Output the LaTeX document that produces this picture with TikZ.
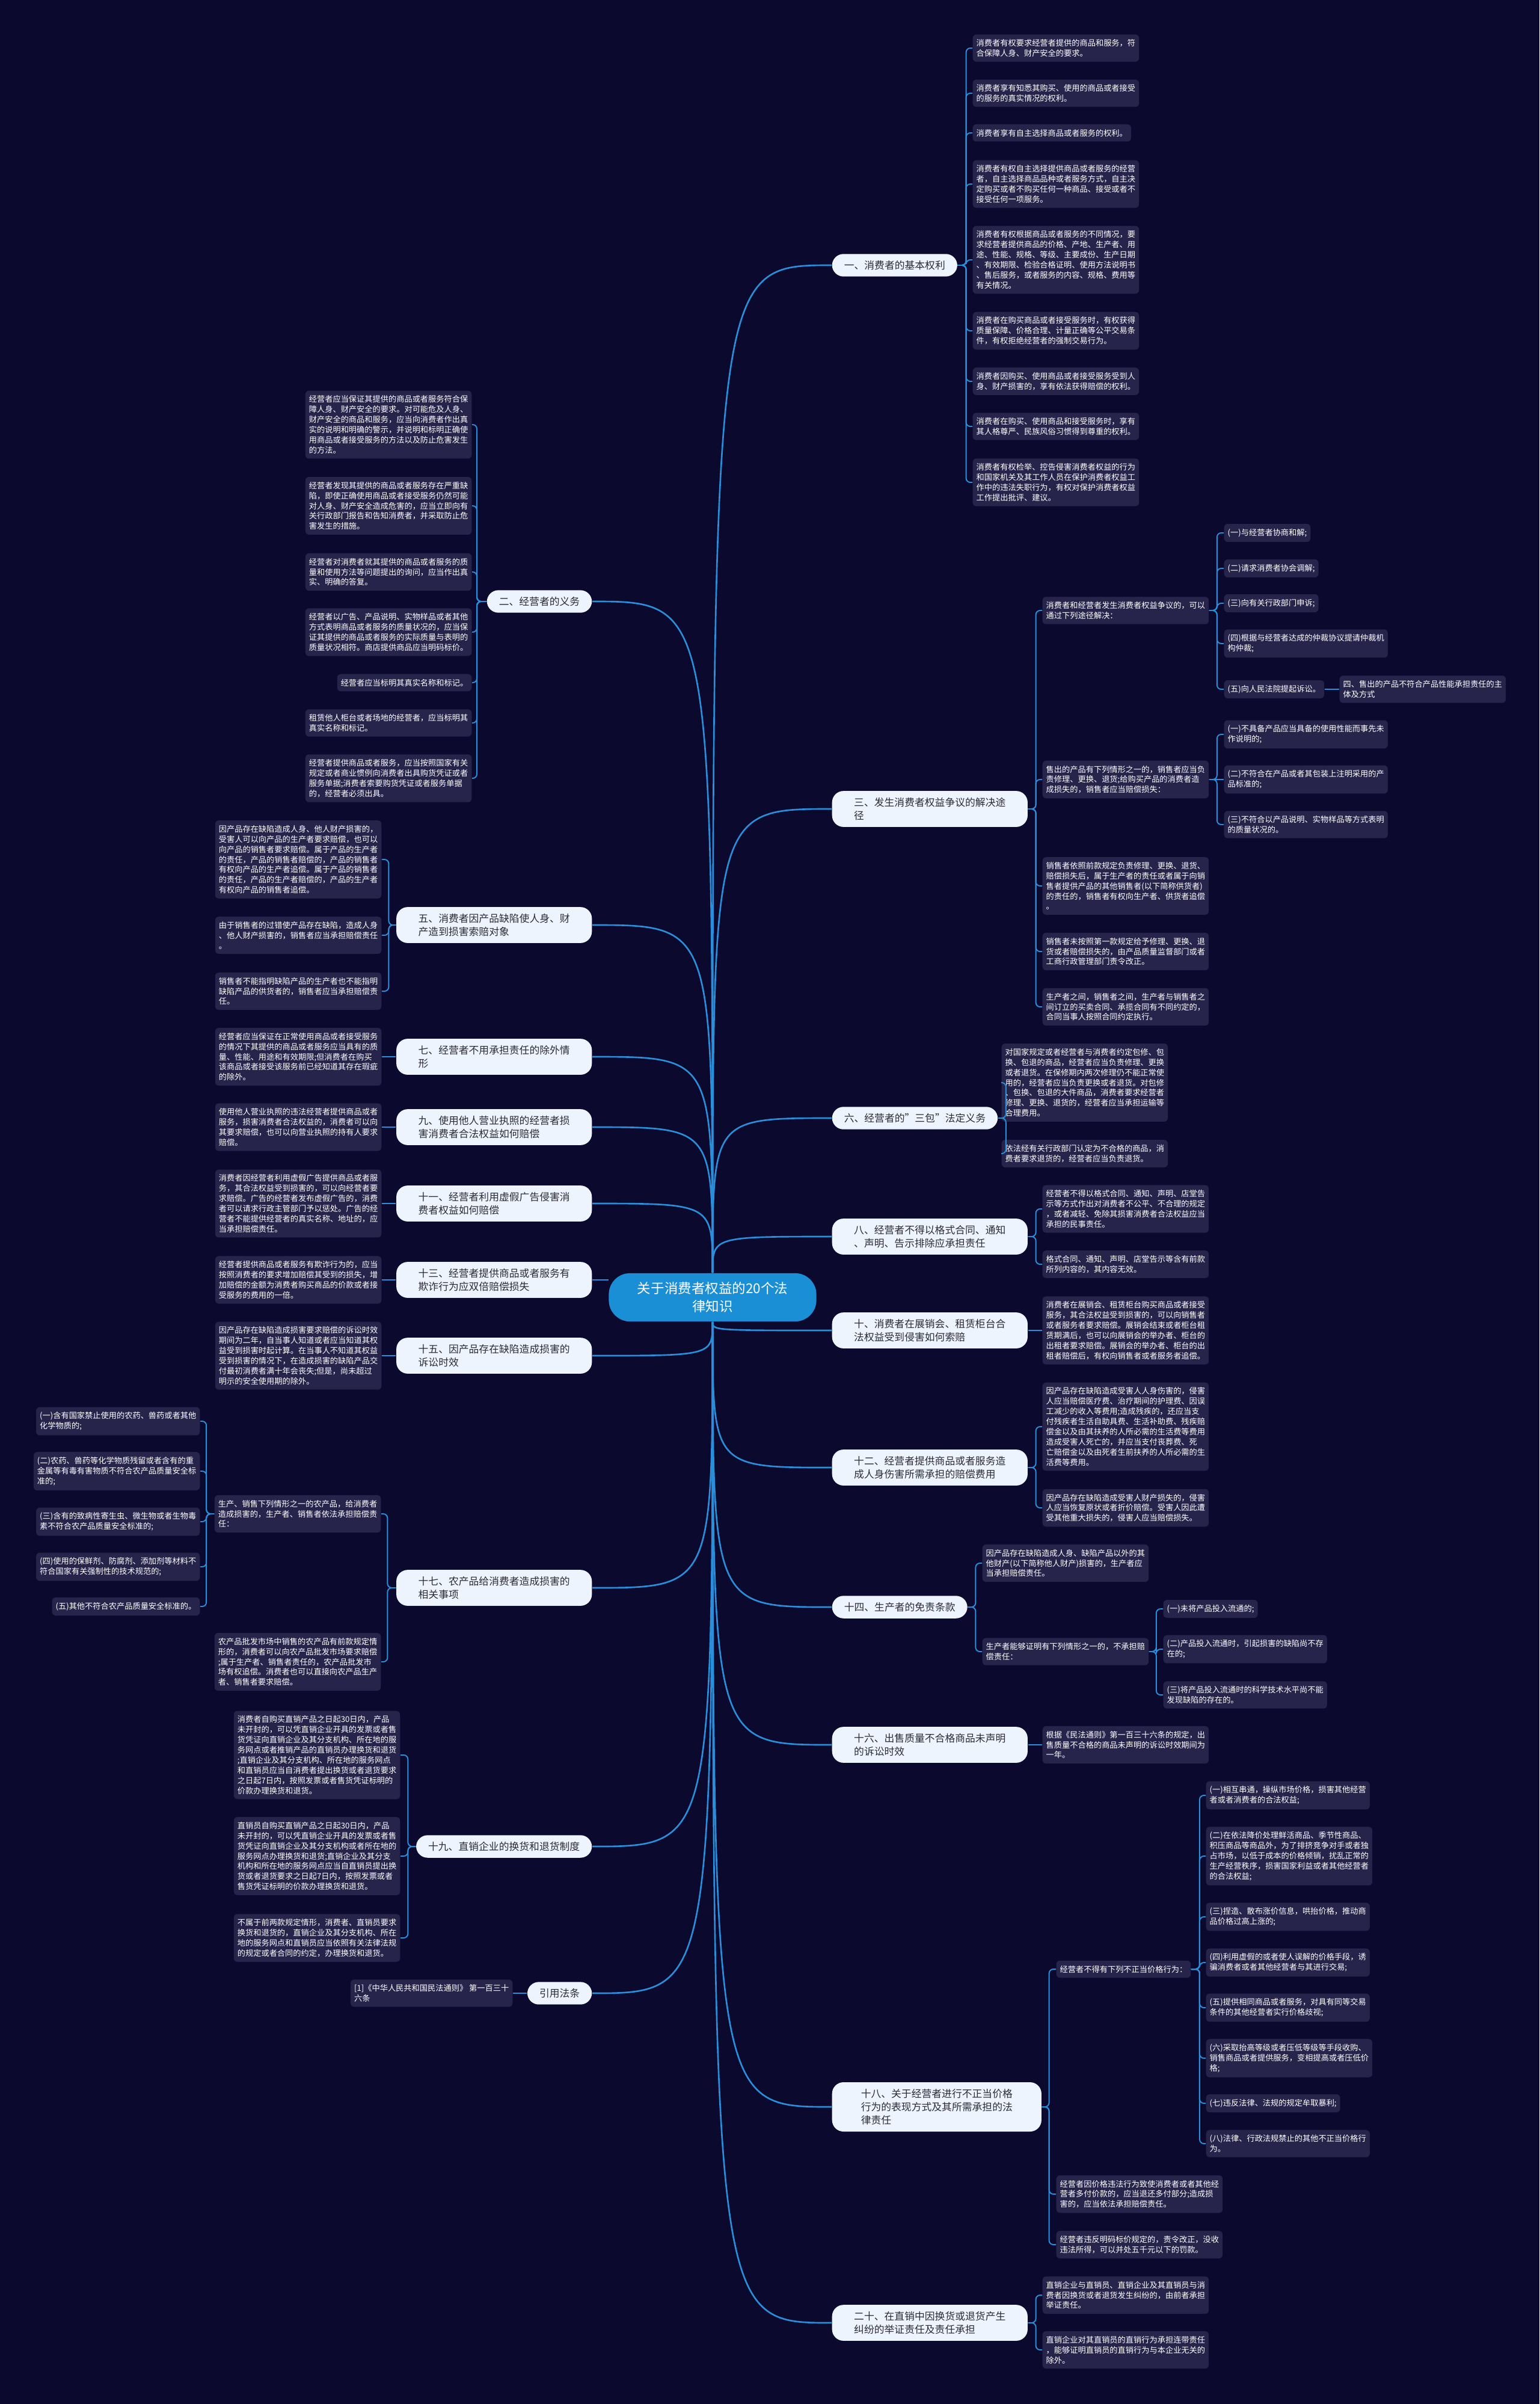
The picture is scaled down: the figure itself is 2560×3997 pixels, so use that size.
\documentclass[tikz,border=0pt]{standalone}
\usepackage{fontspec}
\setmainfont{Noto Sans CJK SC}
\usepackage{tikz}
\definecolor{lawMapBg}{HTML}{0B0A2E}
\definecolor{lawMapLeaf}{HTML}{27244C}
\definecolor{lawMapTopic}{HTML}{EEF4FE}
\definecolor{lawMapTopicText}{HTML}{2B2B33}
\definecolor{lawMapHub}{HTML}{1A8FD6}
\definecolor{lawMapLink}{HTML}{2A8FDB}

\begin{document}
\begin{tikzpicture}[x=0.01cm, y=-0.01cm,
    hub/.style={fill=lawMapHub, text=white, rounded corners=10pt, align=center,
      font=\fontsize{6.4}{8.5}\selectfont, minimum width=3.45cm, inner ysep=4.2pt},
    topic/.style={fill=lawMapTopic, text=lawMapTopicText, rounded corners=5.4pt, align=left,
      font=\fontsize{4.78}{6.35}\selectfont, inner xsep=5.7pt, inner ysep=3.1pt},
    topicr/.style={topic, anchor=west},
    topicl/.style={topic, anchor=east},
    wide/.style={minimum width=3.25cm},
    leaf/.style={fill=lawMapLeaf, text=white, rounded corners=1.7pt, align=left,
      font=\fontsize{3.76}{4.8}\selectfont, inner xsep=1.7pt, inner ysep=2.3pt},
    leafr/.style={leaf, anchor=west},
    leafl/.style={leaf, anchor=east},
    trunk/.style={draw=lawMapLink, line width=0.75pt},
    twig/.style={draw=lawMapLink, line width=0.55pt, rounded corners=2pt}]
\fill[lawMapBg] (0,0) rectangle (2560,3997);

\node[hub] (hub) at (1185,2157) {关于消费者权益的20个法\\律知识};

\node[topicr] (n1) at (1383,441) {一、消费者的基本权利};
\node[topicr, wide] (n3) at (1383,1345) {三、发生消费者权益争议的解决途\\径};
\node[topicr] (n6) at (1383,1859) {六、经营者的"三包"法定义务};
\node[topicr, wide] (n8) at (1383,2056) {八、经营者不得以格式合同、通知\\、声明、告示排除应承担责任};
\node[topicr, wide] (n10) at (1383,2212) {十、消费者在展销会、租赁柜台合\\法权益受到侵害如何索赔};
\node[topicr, wide] (n12) at (1383,2440) {十二、经营者提供商品或者服务造\\成人身伤害所需承担的赔偿费用};
\node[topicr] (n14) at (1383,2672) {十四、生产者的免责条款};
\node[topicr, wide] (n16) at (1383,2901) {十六、出售质量不合格商品未声明\\的诉讼时效};
\node[topicr, minimum width=3.48cm] (n18) at (1383,3503) {十八、关于经营者进行不正当价格\\行为的表现方式及其所需承担的法\\律责任};
\node[topicr, wide] (n20) at (1383,3862) {二十、在直销中因换货或退货产生\\纠纷的举证责任及责任承担};

\node[topicl] (n2) at (985,1000) {二、经营者的义务};
\node[topicl, wide] (n5) at (985,1538) {五、消费者因产品缺陷使人身、财\\产造到损害索赔对象};
\node[topicl, wide] (n7) at (985,1757) {七、经营者不用承担责任的除外情\\形};
\node[topicl, wide] (n9) at (985,1874) {九、使用他人营业执照的经营者损\\害消费者合法权益如何赔偿};
\node[topicl, wide] (n11) at (985,2001) {十一、经营者利用虚假广告侵害消\\费者权益如何赔偿};
\node[topicl, wide] (n13) at (985,2128) {十三、经营者提供商品或者服务有\\欺诈行为应双倍赔偿损失};
\node[topicl, wide] (n15) at (985,2254) {十五、因产品存在缺陷造成损害的\\诉讼时效};
\node[topicl, wide] (n17) at (985,2640) {十七、农产品给消费者造成损害的\\相关事项};
\node[topicl] (n19) at (985,3070) {十九、直销企业的换货和退货制度};
\node[topicl] (nref) at (985,3314) {引用法条};

\node[leafr] (r1a) at (1617,80) {消费者有权要求经营者提供的商品和服务，符\\合保障人身、财产安全的要求。};
\node[leafr] (r1b) at (1617,155) {消费者享有知悉其购买、使用的商品或者接受\\的服务的真实情况的权利。};
\node[leafr] (r1c) at (1617,221) {消费者享有自主选择商品或者服务的权利。};
\node[leafr] (r1d) at (1617,306) {消费者有权自主选择提供商品或者服务的经营\\者，自主选择商品品种或者服务方式，自主决\\定购买或者不购买任何一种商品、接受或者不\\接受任何一项服务。};
\node[leafr] (r1e) at (1617,432) {消费者有权根据商品或者服务的不同情况，要\\求经营者提供商品的价格、产地、生产者、用\\途、性能、规格、等级、主要成份、生产日期\\、有效期限、检验合格证明、使用方法说明书\\、售后服务，或者服务的内容、规格、费用等\\有关情况。};
\node[leafr] (r1f) at (1617,550) {消费者在购买商品或者接受服务时，有权获得\\质量保障、价格合理、计量正确等公平交易条\\件，有权拒绝经营者的强制交易行为。};
\node[leafr] (r1g) at (1617,634) {消费者因购买、使用商品或者接受服务受到人\\身、财产损害的，享有依法获得赔偿的权利。};
\node[leafr] (r1h) at (1617,709) {消费者在购买、使用商品和接受服务时，享有\\其人格尊严、民族风俗习惯得到尊重的权利。};
\node[leafr] (r1i) at (1617,802) {消费者有权检举、控告侵害消费者权益的行为\\和国家机关及其工作人员在保护消费者权益工\\作中的违法失职行为，有权对保护消费者权益\\工作提出批评、建议。};

\node[leafr] (r3a) at (1733,1015) {消费者和经营者发生消费者权益争议的，可以\\通过下列途径解决：};
\node[leafr] (r3a1) at (2035,886) {(一)与经营者协商和解;};
\node[leafr] (r3a2) at (2035,945) {(二)请求消费者协会调解;};
\node[leafr] (r3a3) at (2035,1003) {(三)向有关行政部门申诉;};
\node[leafr] (r3a4) at (2035,1070) {(四)根据与经营者达成的仲裁协议提请仲裁机\\构仲裁;};
\node[leafr] (r3a5) at (2035,1146) {(五)向人民法院提起诉讼。};
\node[leafr] (r3a5x) at (2227,1146) {四、售出的产品不符合产品性能承担责任的主\\体及方式};
\node[leafr] (r3b) at (1733,1296) {售出的产品有下列情形之一的，销售者应当负\\责修理、更换、退货;给购买产品的消费者造\\成损失的，销售者应当赔偿损失：};
\node[leafr] (r3b1) at (2035,1221) {(一)不具备产品应当具备的使用性能而事先未\\作说明的;};
\node[leafr] (r3b2) at (2035,1296) {(二)不符合在产品或者其包装上注明采用的产\\品标准的;};
\node[leafr] (r3b3) at (2035,1371) {(三)不符合以产品说明、实物样品等方式表明\\的质量状况的。};
\node[leafr] (r3c) at (1733,1473) {销售者依照前款规定负责修理、更换、退货、\\赔偿损失后，属于生产者的责任或者属于向销\\售者提供产品的其他销售者(以下简称供货者)\\的责任的，销售者有权向生产者、供货者追偿\\。};
\node[leafr] (r3d) at (1733,1582) {销售者未按照第一款规定给予修理、更换、退\\货或者赔偿损失的，由产品质量监督部门或者\\工商行政管理部门责令改正。};
\node[leafr] (r3e) at (1733,1674) {生产者之间，销售者之间，生产者与销售者之\\间订立的买卖合同、承揽合同有不同约定的，\\合同当事人按照合同约定执行。};

\node[leafr] (r6a) at (1665,1800) {对国家规定或者经营者与消费者约定包修、包\\换、包退的商品，经营者应当负责修理、更换\\或者退货。在保修期内两次修理仍不能正常使\\用的，经营者应当负责更换或者退货。对包修\\、包换、包退的大件商品，消费者要求经营者\\修理、更换、退货的，经营者应当承担运输等\\合理费用。};
\node[leafr] (r6b) at (1665,1918) {依法经有关行政部门认定为不合格的商品，消\\费者要求退货的，经营者应当负责退货。};

\node[leafr] (r8a) at (1733,2010) {经营者不得以格式合同、通知、声明、店堂告\\示等方式作出对消费者不公平、不合理的规定\\，或者减轻、免除其损害消费者合法权益应当\\承担的民事责任。};
\node[leafr] (r8b) at (1733,2102) {格式合同、通知、声明、店堂告示等含有前款\\所列内容的，其内容无效。};

\node[leafr] (r10a) at (1733,2212) {消费者在展销会、租赁柜台购买商品或者接受\\服务，其合法权益受到损害的，可以向销售者\\或者服务者要求赔偿。展销会结束或者柜台租\\赁期满后，也可以向展销会的举办者、柜台的\\出租者要求赔偿。展销会的举办者、柜台的出\\租者赔偿后，有权向销售者或者服务者追偿。};

\node[leafr] (r12a) at (1733,2372) {因产品存在缺陷造成受害人人身伤害的，侵害\\人应当赔偿医疗费、治疗期间的护理费、因误\\工减少的收入等费用;造成残疾的，还应当支\\付残疾者生活自助具费、生活补助费、残疾赔\\偿金以及由其扶养的人所必需的生活费等费用\\造成受害人死亡的，并应当支付丧葬费、死\\亡赔偿金以及由死者生前扶养的人所必需的生\\活费等费用。};
\node[leafr] (r12b) at (1733,2507) {因产品存在缺陷造成受害人财产损失的，侵害\\人应当恢复原状或者折价赔偿。受害人因此遭\\受其他重大损失的，侵害人应当赔偿损失。};

\node[leafr] (r14a) at (1633,2599) {因产品存在缺陷造成人身、缺陷产品以外的其\\他财产(以下简称他人财产)损害的，生产者应\\当承担赔偿责任。};
\node[leafr] (r14b) at (1633,2746) {生产者能够证明有下列情形之一的，不承担赔\\偿责任：};
\node[leafr] (r14b1) at (1934,2675) {(一)未将产品投入流通的;};
\node[leafr] (r14b2) at (1934,2742) {(二)产品投入流通时，引起损害的缺陷尚不存\\在的;};
\node[leafr] (r14b3) at (1934,2818) {(三)将产品投入流通时的科学技术水平尚不能\\发现缺陷的存在的。};

\node[leafr] (r16a) at (1733,2901) {根据《民法通则》第一百三十六条的规定，出\\售质量不合格的商品未声明的诉讼时效期间为\\一年。};

\node[leafr] (r18a) at (1756,3274) {经营者不得有下列不正当价格行为：};
\node[leafr] (r18a1) at (2005,2985) {(一)相互串通，操纵市场价格，损害其他经营\\者或者消费者的合法权益;};
\node[leafr] (r18a2) at (2005,3086) {(二)在依法降价处理鲜活商品、季节性商品、\\积压商品等商品外，为了排挤竞争对手或者独\\占市场，以低于成本的价格倾销，扰乱正常的\\生产经营秩序，损害国家利益或者其他经营者\\的合法权益;};
\node[leafr] (r18a3) at (2005,3187) {(三)捏造、散布涨价信息，哄抬价格，推动商\\品价格过高上涨的;};
\node[leafr] (r18a4) at (2005,3263) {(四)利用虚假的或者使人误解的价格手段，诱\\骗消费者或者其他经营者与其进行交易;};
\node[leafr] (r18a5) at (2005,3338) {(五)提供相同商品或者服务，对具有同等交易\\条件的其他经营者实行价格歧视;};
\node[leafr] (r18a6) at (2005,3422) {(六)采取抬高等级或者压低等级等手段收购、\\销售商品或者提供服务，变相提高或者压低价\\格;};
\node[leafr] (r18a7) at (2005,3497) {(七)违反法律、法规的规定牟取暴利;};
\node[leafr] (r18a8) at (2005,3564) {(八)法律、行政法规禁止的其他不正当价格行\\为。};
\node[leafr] (r18b) at (1756,3648) {经营者因价格违法行为致使消费者或者其他经\\营者多付价款的，应当退还多付部分;造成损\\害的，应当依法承担赔偿责任。};
\node[leafr] (r18c) at (1756,3732) {经营者违反明码标价规定的，责令改正，没收\\违法所得，可以并处五千元以下的罚款。};

\node[leafr] (r20a) at (1733,3816) {直销企业与直销员、直销企业及其直销员与消\\费者因换货或者退货发生纠纷的，由前者承担\\举证责任。};
\node[leafr] (r20b) at (1733,3907) {直销企业对其直销员的直销行为承担连带责任\\，能够证明直销员的直销行为与本企业无关的\\除外。};

\node[leafl] (l2a) at (785,706) {经营者应当保证其提供的商品或者服务符合保\\障人身、财产安全的要求。对可能危及人身、\\财产安全的商品和服务，应当向消费者作出真\\实的说明和明确的警示，并说明和标明正确使\\用商品或者接受服务的方法以及防止危害发生\\的方法。};
\node[leafl] (l2b) at (785,841) {经营者发现其提供的商品或者服务存在严重缺\\陷，即使正确使用商品或者接受服务仍然可能\\对人身、财产安全造成危害的，应当立即向有\\关行政部门报告和告知消费者，并采取防止危\\害发生的措施。};
\node[leafl] (l2c) at (785,951) {经营者对消费者就其提供的商品或者服务的质\\量和使用方法等问题提出的询问，应当作出真\\实、明确的答复。};
\node[leafl] (l2d) at (785,1051) {经营者以广告、产品说明、实物样品或者其他\\方式表明商品或者服务的质量状况的，应当保\\证其提供的商品或者服务的实际质量与表明的\\质量状况相符。商店提供商品应当明码标价。};
\node[leafl] (l2e) at (785,1135) {经营者应当标明其真实名称和标记。};
\node[leafl] (l2f) at (785,1202) {租赁他人柜台或者场地的经营者，应当标明其\\真实名称和标记。};
\node[leafl] (l2g) at (785,1294) {经营者提供商品或者服务，应当按照国家有关\\规定或者商业惯例向消费者出具购货凭证或者\\服务单据;消费者索要购货凭证或者服务单据\\的，经营者必须出具。};

\node[leafl] (l5a) at (635,1429) {因产品存在缺陷造成人身、他人财产损害的，\\受害人可以向产品的生产者要求赔偿，也可以\\向产品的销售者要求赔偿。属于产品的生产者\\的责任，产品的销售者赔偿的，产品的销售者\\有权向产品的生产者追偿。属于产品的销售者\\的责任，产品的生产者赔偿的，产品的生产者\\有权向产品的销售者追偿。};
\node[leafl] (l5b) at (635,1555) {由于销售者的过错使产品存在缺陷，造成人身\\、他人财产损害的，销售者应当承担赔偿责任\\。};
\node[leafl] (l5c) at (635,1648) {销售者不能指明缺陷产品的生产者也不能指明\\缺陷产品的供货者的，销售者应当承担赔偿责\\任。};

\node[leafl] (l7a) at (635,1757) {经营者应当保证在正常使用商品或者接受服务\\的情况下其提供的商品或者服务应当具有的质\\量、性能、用途和有效期限;但消费者在购买\\该商品或者接受该服务前已经知道其存在瑕疵\\的除外。};
\node[leafl] (l9a) at (635,1874) {使用他人营业执照的违法经营者提供商品或者\\服务，损害消费者合法权益的，消费者可以向\\其要求赔偿，也可以向营业执照的持有人要求\\赔偿。};
\node[leafl] (l11a) at (635,2001) {消费者因经营者利用虚假广告提供商品或者服\\务，其合法权益受到损害的，可以向经营者要\\求赔偿。广告的经营者发布虚假广告的，消费\\者可以请求行政主管部门予以惩处。广告的经\\营者不能提供经营者的真实名称、地址的，应\\当承担赔偿责任。};
\node[leafl] (l13a) at (635,2128) {经营者提供商品或者服务有欺诈行为的，应当\\按照消费者的要求增加赔偿其受到的损失，增\\加赔偿的金额为消费者购买商品的价款或者接\\受服务的费用的一倍。};
\node[leafl] (l15a) at (635,2254) {因产品存在缺陷造成损害要求赔偿的诉讼时效\\期间为二年，自当事人知道或者应当知道其权\\益受到损害时起计算。在当事人不知道其权益\\受到损害的情况下，在造成损害的缺陷产品交\\付最初消费者满十年会丧失;但是，尚未超过\\明示的安全使用期的除外。};

\node[leafl] (l17a) at (634,2517) {生产、销售下列情形之一的农产品，给消费者\\造成损害的，生产者、销售者依法承担赔偿责\\任：};
\node[leafl] (l17a1) at (333,2363) {(一)含有国家禁止使用的农药、兽药或者其他\\化学物质的;};
\node[leafl] (l17a2) at (333,2446) {(二)农药、兽药等化学物质残留或者含有的重\\金属等有毒有害物质不符合农产品质量安全标\\准的;};
\node[leafl] (l17a3) at (333,2530) {(三)含有的致病性寄生虫、微生物或者生物毒\\素不符合农产品质量安全标准的;};
\node[leafl] (l17a4) at (333,2605) {(四)使用的保鲜剂、防腐剂、添加剂等材料不\\符合国家有关强制性的技术规范的;};
\node[leafl] (l17a5) at (333,2671) {(五)其他不符合农产品质量安全标准的。};
\node[leafl] (l17b) at (634,2763) {农产品批发市场中销售的农产品有前款规定情\\形的，消费者可以向农产品批发市场要求赔偿\\;属于生产者、销售者责任的，农产品批发市\\场有权追偿。消费者也可以直接向农产品生产\\者、销售者要求赔偿。};

\node[leafl] (l19a) at (666,2918) {消费者自购买直销产品之日起30日内，产品\\未开封的，可以凭直销企业开具的发票或者售\\货凭证向直销企业及其分支机构、所在地的服\\务网点或者推销产品的直销员办理换货和退货\\;直销企业及其分支机构、所在地的服务网点\\和直销员应当自消费者提出换货或者退货要求\\之日起7日内，按照发票或者售货凭证标明的\\价款办理换货和退货。};
\node[leafl] (l19b) at (666,3086) {直销员自购买直销产品之日起30日内，产品\\未开封的，可以凭直销企业开具的发票或者售\\货凭证向直销企业及其分支机构或者所在地的\\服务网点办理换货和退货;直销企业及其分支\\机构和所在地的服务网点应当自直销员提出换\\货或者退货要求之日起7日内，按照发票或者\\售货凭证标明的价款办理换货和退货。};
\node[leafl] (l19c) at (666,3222) {不属于前两款规定情形，消费者、直销员要求\\换货和退货的，直销企业及其分支机构、所在\\地的服务网点和直销员应当依照有关法律法规\\的规定或者合同的约定，办理换货和退货。};
\node[leafl] (lref) at (853,3314) {[1]《中华人民共和国民法通则》 第一百三十\\六条};

\draw[trunk] (hub.north) .. controls (hub.north |- n1.west) .. (n1.west);
\draw[trunk] (hub.north) .. controls (hub.north |- n3.west) .. (n3.west);
\draw[trunk] (hub.north) .. controls (hub.north |- n6.west) .. (n6.west);
\draw[trunk] (hub.north) .. controls (hub.north |- n8.west) .. (n8.west);
\draw[trunk] (hub.south) .. controls (hub.south |- n10.west) .. (n10.west);
\draw[trunk] (hub.south) .. controls (hub.south |- n12.west) .. (n12.west);
\draw[trunk] (hub.south) .. controls (hub.south |- n14.west) .. (n14.west);
\draw[trunk] (hub.south) .. controls (hub.south |- n16.west) .. (n16.west);
\draw[trunk] (hub.south) .. controls (hub.south |- n18.west) .. (n18.west);
\draw[trunk] (hub.south) .. controls (hub.south |- n20.west) .. (n20.west);
\draw[trunk] (hub.north) .. controls (hub.north |- n2.east) .. (n2.east);
\draw[trunk] (hub.north) .. controls (hub.north |- n5.east) .. (n5.east);
\draw[trunk] (hub.north) .. controls (hub.north |- n7.east) .. (n7.east);
\draw[trunk] (hub.north) .. controls (hub.north |- n9.east) .. (n9.east);
\draw[trunk] (hub.north) .. controls (hub.north |- n11.east) .. (n11.east);
\draw[trunk] (hub.west |- n13.east) -- (n13.east);
\draw[trunk] (hub.south) .. controls (hub.south |- n15.east) .. (n15.east);
\draw[trunk] (hub.south) .. controls (hub.south |- n17.east) .. (n17.east);
\draw[trunk] (hub.south) .. controls (hub.south |- n19.east) .. (n19.east);
\draw[trunk] (hub.south) .. controls (hub.south |- nref.east) .. (nref.east);

\draw[twig] (n1.east) -- ++(14,0) |- (r1a.west);
\draw[twig] (n1.east) -- ++(14,0) |- (r1b.west);
\draw[twig] (n1.east) -- ++(14,0) |- (r1c.west);
\draw[twig] (n1.east) -- ++(14,0) |- (r1d.west);
\draw[twig] (n1.east) -- ++(14,0) |- (r1e.west);
\draw[twig] (n1.east) -- ++(14,0) |- (r1f.west);
\draw[twig] (n1.east) -- ++(14,0) |- (r1g.west);
\draw[twig] (n1.east) -- ++(14,0) |- (r1h.west);
\draw[twig] (n1.east) -- ++(14,0) |- (r1i.west);
\draw[twig] (n3.east) -- ++(13,0) |- (r3a.west);
\draw[twig] (n3.east) -- ++(13,0) |- (r3b.west);
\draw[twig] (n3.east) -- ++(13,0) |- (r3c.west);
\draw[twig] (n3.east) -- ++(13,0) |- (r3d.west);
\draw[twig] (n3.east) -- ++(13,0) |- (r3e.west);
\draw[twig] (r3a.east) -- ++(13,0) |- (r3a1.west);
\draw[twig] (r3a.east) -- ++(13,0) |- (r3a2.west);
\draw[twig] (r3a.east) -- ++(13,0) |- (r3a3.west);
\draw[twig] (r3a.east) -- ++(13,0) |- (r3a4.west);
\draw[twig] (r3a.east) -- ++(13,0) |- (r3a5.west);
\draw[twig] (r3a5.east) -- (r3a5x.west);
\draw[twig] (r3b.east) -- ++(13,0) |- (r3b1.west);
\draw[twig] (r3b.east) -- (r3b2.west);
\draw[twig] (r3b.east) -- ++(13,0) |- (r3b3.west);
\draw[twig] (n6.east) -- ++(13,0) |- (r6a.west);
\draw[twig] (n6.east) -- ++(13,0) |- (r6b.west);
\draw[twig] (n8.east) -- ++(13,0) |- (r8a.west);
\draw[twig] (n8.east) -- ++(13,0) |- (r8b.west);
\draw[twig] (n10.east) -- (r10a.west);
\draw[twig] (n12.east) -- ++(13,0) |- (r12a.west);
\draw[twig] (n12.east) -- ++(13,0) |- (r12b.west);
\draw[twig] (n14.east) -- ++(13,0) |- (r14a.west);
\draw[twig] (n14.east) -- ++(13,0) |- (r14b.west);
\draw[twig] (r14b.east) -- ++(12,0) |- (r14b1.west);
\draw[twig] (r14b.east) -- ++(12,0) |- (r14b2.west);
\draw[twig] (r14b.east) -- ++(12,0) |- (r14b3.west);
\draw[twig] (n16.east) -- (r16a.west);
\draw[twig] (n18.east) -- ++(12,0) |- (r18a.west);
\draw[twig] (n18.east) -- ++(12,0) |- (r18b.west);
\draw[twig] (n18.east) -- ++(12,0) |- (r18c.west);
\draw[twig] (r18a.east) -- ++(14,0) |- (r18a1.west);
\draw[twig] (r18a.east) -- ++(14,0) |- (r18a2.west);
\draw[twig] (r18a.east) -- ++(14,0) |- (r18a3.west);
\draw[twig] (r18a.east) -- ++(14,0) |- (r18a4.west);
\draw[twig] (r18a.east) -- ++(14,0) |- (r18a5.west);
\draw[twig] (r18a.east) -- ++(14,0) |- (r18a6.west);
\draw[twig] (r18a.east) -- ++(14,0) |- (r18a7.west);
\draw[twig] (r18a.east) -- ++(14,0) |- (r18a8.west);
\draw[twig] (n20.east) -- ++(13,0) |- (r20a.west);
\draw[twig] (n20.east) -- ++(13,0) |- (r20b.west);

\draw[twig] (n2.west) -- ++(-16,0) |- (l2a.east);
\draw[twig] (n2.west) -- ++(-16,0) |- (l2b.east);
\draw[twig] (n2.west) -- ++(-16,0) |- (l2c.east);
\draw[twig] (n2.west) -- ++(-16,0) |- (l2d.east);
\draw[twig] (n2.west) -- ++(-16,0) |- (l2e.east);
\draw[twig] (n2.west) -- ++(-16,0) |- (l2f.east);
\draw[twig] (n2.west) -- ++(-16,0) |- (l2g.east);
\draw[twig] (n5.west) -- ++(-12,0) |- (l5a.east);
\draw[twig] (n5.west) -- ++(-12,0) |- (l5b.east);
\draw[twig] (n5.west) -- ++(-12,0) |- (l5c.east);
\draw[twig] (n7.west) -- (l7a.east);
\draw[twig] (n9.west) -- (l9a.east);
\draw[twig] (n11.west) -- (l11a.east);
\draw[twig] (n13.west) -- (l13a.east);
\draw[twig] (n15.west) -- (l15a.east);
\draw[twig] (n17.west) -- ++(-14,0) |- (l17a.east);
\draw[twig] (n17.west) -- ++(-14,0) |- (l17b.east);
\draw[twig] (l17a.west) -- ++(-13,0) |- (l17a1.east);
\draw[twig] (l17a.west) -- ++(-13,0) |- (l17a2.east);
\draw[twig] (l17a.west) -- ++(-13,0) |- (l17a3.east);
\draw[twig] (l17a.west) -- ++(-13,0) |- (l17a4.east);
\draw[twig] (l17a.west) -- ++(-13,0) |- (l17a5.east);
\draw[twig] (n19.west) -- ++(-13,0) |- (l19a.east);
\draw[twig] (n19.west) -- ++(-13,0) |- (l19b.east);
\draw[twig] (n19.west) -- ++(-13,0) |- (l19c.east);
\draw[twig] (nref.west) -- (lref.east);
\end{tikzpicture}
\end{document}
